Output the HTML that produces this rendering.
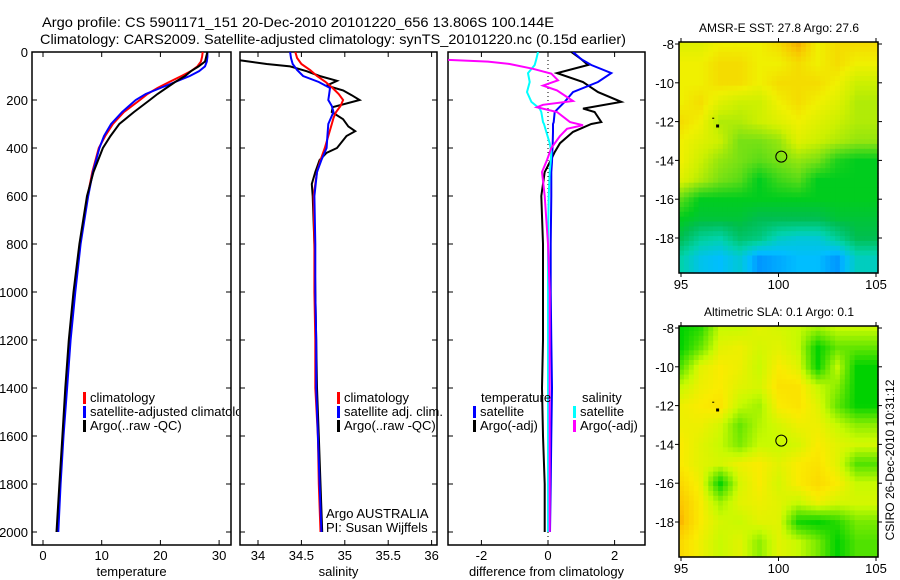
<!DOCTYPE html>
<html><head><meta charset="utf-8"><style>
html,body{margin:0;padding:0;background:#fff;}
svg{display:block;font-family:"Liberation Sans",sans-serif;}
</style></head><body>
<svg id="c" width="900" height="580" viewBox="0 0 900 580" xmlns="http://www.w3.org/2000/svg">
<defs>
<clipPath id="cp1"><rect x="32" y="52" width="199" height="493"/></clipPath>
<clipPath id="cp2"><rect x="240" y="52" width="197" height="493"/></clipPath>
<clipPath id="cp3"><rect x="448" y="52" width="197" height="493"/></clipPath>
<clipPath id="cpl"><rect x="32" y="380" width="207" height="60"/></clipPath>
</defs>
<text x="42" y="27" font-size="14" textLength="512" lengthAdjust="spacingAndGlyphs">Argo profile: CS 5901171_151 20-Dec-2010 20101220_656 13.806S 100.144E</text>
<text x="40" y="44" font-size="14" textLength="586" lengthAdjust="spacingAndGlyphs">Climatology: CARS2009. Satellite-adjusted climatology: synTS_20101220.nc (0.15d earlier)</text>
<g id="g"></g>
</svg>
<script>
// ---- data ----
const depthLevels = [0,20,40,60,80,100,125,150,175,200,250,300,350,400,500,600,800,1000,1200,1400,1600,1800,2000];
const tempClim = [27.2,27.1,26.9,26.3,25.2,23.6,21.5,19.5,17.8,16.5,13.8,11.9,10.6,9.5,8.4,7.6,6.3,5.4,4.6,3.9,3.4,2.9,2.5];
const tempSat = [28.0,28.0,27.9,27.6,26.6,25.0,22.5,20.0,17.5,15.8,13.5,11.6,10.4,9.6,8.5,7.7,6.4,5.5,4.7,4.1,3.5,3.0,2.6];
const tempArgo = [28.0,27.8,27.6,26.5,25.2,24.2,22.5,21.0,19.5,18.2,15.5,13.0,11.5,10.2,8.6,7.5,6.2,5.2,4.4,3.8,3.3,2.8,2.3];
const salDepths = [0,25,50,75,100,125,150,175,200,225,250,275,300,350,400,450,500,600,800,1000,1200,1400,1600,1800,2000];
const salClim = [34.43,34.45,34.5,34.6,34.68,34.78,34.86,34.93,34.98,34.95,34.9,34.87,34.85,34.81,34.77,34.72,34.68,34.64,34.65,34.65,34.66,34.66,34.69,34.7,34.72];
const salSat = [34.37,34.38,34.4,34.45,34.52,34.7,34.83,34.82,34.81,34.85,34.87,34.84,34.81,34.8,34.79,34.73,34.68,34.65,34.66,34.66,34.67,34.67,34.69,34.71,34.73];
const argoSalDepths = [25,35,50,60,80,100,120,140,160,180,200,230,250,280,310,330,350,400,420,450,500,550,600,800,1000,1200,1400,1600,1800,2000];
const salArgo = [33.7,33.8,34.1,34.37,34.56,34.71,34.91,34.79,34.98,35.08,35.17,34.86,34.85,34.98,35.04,35.12,35.02,34.91,34.79,34.71,34.66,34.62,34.63,34.65,34.66,34.67,34.68,34.7,34.72,34.74];
const diffDepths = [0,30,54,88,125,167,208,236,250,292,300,333,380,417,458,500,600,800,1000,1200,1400,1600,1800,2000];
const diffTempSat = [0.75,1.0,1.3,1.9,1.5,0.75,0.5,0.3,0.2,0.17,0.15,0.15,0.14,0.13,0.12,0.1,0.1,0.08,0.08,0.1,0.12,0.1,0.08,0.06];
const diffTempArgo = [0.7,1.0,1.2,0.27,1.05,1.5,2.2,1.05,1.4,1.6,1.3,0.75,0.36,0.2,0.06,-0.1,-0.2,-0.15,-0.15,-0.15,-0.18,-0.15,-0.1,-0.1];
const diffSalSat = [-0.3,-0.35,-0.4,-0.6,-0.55,-0.63,-0.5,-0.25,-0.2,-0.15,-0.12,-0.05,0.05,0.1,0.08,0.05,0.02,0.0,0.0,0.0,0.0,0.0,0.0,0.0];
const diffSalArgoDepths = [33,40,50,70,90,118,140,160,204,220,230,250,292,305,320,350,400,450,500,600,800,1000,1400,2000];
const diffSalArgo = [-3.0,-1.8,-1.15,-0.45,0.1,0.3,-0.15,0.27,0.75,-0.15,-0.33,0.27,0.66,1.05,0.57,0.36,0.1,-0.03,-0.18,-0.1,0.0,0.05,0.05,0.05];
const depthTicks = [0,200,400,600,800,1000,1200,1400,1600,1800,2000];
const tempTicks = [0,10,20,30];
const salTicks = [34,34.5,35,35.5,36];
const salTickLabels = ["34","34.5","35","35.5","36"];
const diffTicks = [-2,0,2];
const lonTicks = [95,100,105];
const latTicks = [-8,-10,-12,-14,-16,-18];
// map grids: rows lat -8..-19 (1 deg), cols lon 95..104
const sstGrid = [
[27.8,27.8,27.9,27.9,27.9,28.0,28.2,27.9,28.0,28.0],
[27.9,27.9,28.0,28.0,27.9,27.9,28.0,27.9,28.0,27.9],
[27.9,27.9,28.0,28.0,27.9,28.0,28.0,28.0,27.9,27.7],
[27.9,28.0,27.8,27.7,27.7,27.9,28.0,27.9,27.8,27.6],
[28.0,27.9,27.6,27.6,27.7,27.8,27.9,27.8,27.7,27.6],
[27.9,27.8,27.7,27.4,27.4,27.5,27.8,27.7,27.6,27.5],
[27.9,27.7,27.5,27.4,27.3,27.4,27.5,27.4,27.1,27.0],
[27.8,27.6,27.4,27.3,27.0,27.2,27.3,27.0,27.0,27.0],
[27.3,27.0,27.0,27.0,27.0,27.0,27.0,27.0,27.0,27.0],
[27.0,26.9,26.9,26.9,26.8,26.8,26.8,26.8,26.9,26.9],
[26.8,26.5,26.4,26.7,26.6,26.3,26.2,26.2,26.5,26.8],
[26.4,26.1,26.0,26.2,25.8,25.9,26.0,26.0,25.8,26.3]];
const slaGrid = [
[-1,-0.8,0,0,0.2,0.1,0,-0.2,0,0],
[-1,-0.5,0.2,0.3,0.1,0.2,0,-1,-0.5,-0.5],
[-0.6,0.2,0.4,0.3,0,0.4,0.2,-1,0,-1],
[0,0.3,0.4,0.2,0.1,0.5,0.5,0,-0.3,-1],
[0.3,0.4,0.5,0,-0.2,0.4,0.5,0.2,-0.5,-1],
[0.3,0.3,0.1,-0.5,-0.1,0.1,0.3,0.3,0,-0.3],
[0.4,0.2,0,-0.4,0,0,0.1,0.4,0.2,0.1],
[0.4,0.2,0.1,0.3,0.4,0.2,0.4,0.5,0.2,-0.6],
[0.6,0.3,-1,0.1,0.4,0.1,0.4,0.6,0.4,0],
[0.8,0.4,-0.2,0.2,0.3,0.2,0,0.3,0.1,0.1],
[0.9,0.4,0.1,0,0.2,0.2,-0.9,-1,-0.8,-0.4],
[0.6,0.3,0,0.2,-0.3,0.2,0,-0.4,-1,-0.6]];
const argoLon = [100.144];
const argoLat = [-13.806];

// ---- helpers ----
const NS="http://www.w3.org/2000/svg";
const G=document.getElementById('g');
function mk(tag,attrs,parent){const e=document.createElementNS(NS,tag);for(const k in attrs)e.setAttribute(k,attrs[k]);(parent||G).appendChild(e);return e;}
const yD=d=>52+d*0.24;
const xT=v=>43+v*5.87;
const xS=v=>258+(v-34)*86.8;
const xDf=v=>548+v*33.3;
function txt(x,y,s,opt,name){const t=mk('text',Object.assign({x:x,y:y,'font-size':13},opt||{}));t.textContent=s;


return t;}
function line(xs,ys,xf,color,clip,name){const pts=xs.map((v,i)=>xf(v).toFixed(1)+','+yD(ys[i]).toFixed(1)).join(' ');
const p=mk('polyline',{points:pts,fill:'none',stroke:color,'stroke-width':2,'clip-path':'url(#'+clip+')'});


return p;}

// ---- profile panels ----
const panels=[{x:32,w:199,xf:xT,ticks:tempTicks,labs:tempTicks.map(String),title:'temperature',n:'temperature'},
{x:240,w:197,xf:xS,ticks:salTicks,labs:salTickLabels,title:'salinity',n:'salinity'},
{x:448,w:197,xf:xDf,ticks:diffTicks,labs:diffTicks.map(String),title:'difference from climatology',n:'difference'}];
panels.forEach((p,pi)=>{
  const r=mk('rect',{x:p.x,y:52,width:p.w,height:493,fill:'none',stroke:'#000','stroke-width':1.5});
  
  
  depthTicks.forEach(d=>{
    mk('line',{x1:p.x,x2:p.x+5,y1:yD(d),y2:yD(d),stroke:'#000'});
    mk('line',{x1:p.x+p.w-5,x2:p.x+p.w,y1:yD(d),y2:yD(d),stroke:'#000'});
  });
  p.ticks.forEach((t,i)=>{
    const x=p.xf(t);
    mk('line',{x1:x,x2:x,y1:545,y2:540,stroke:'#000'});
    mk('line',{x1:x,x2:x,y1:52,y2:57,stroke:'#000'});
    txt(x,560,p.labs[i],{'text-anchor':'middle'},p.n+'-x-tick-label');
  });
  txt(p.x+p.w/2,576,p.title,{'text-anchor':'middle'},p.n+'-x-axis-title');
});
depthTicks.forEach(d=>txt(28,yD(d)+5,String(d),{'text-anchor':'end'},'depth-tick-label'));

line(tempClim,depthLevels,xT,'#ff0000','cp1','temp-climatology-line');
line(tempSat,depthLevels,xT,'#0000ff','cp1','temp-satellite-line');
line(tempArgo,depthLevels,xT,'#000000','cp1','temp-argo-line');
line(salArgo,argoSalDepths,xS,'#000000','cp2','sal-argo-line');
line(salClim,salDepths,xS,'#ff0000','cp2','sal-climatology-line');
line(salSat,salDepths,xS,'#0000ff','cp2','sal-satellite-line');
const zl=mk('line',{x1:548,x2:548,y1:52,y2:545,stroke:'#000','stroke-dasharray':'1,3'});


line(diffTempArgo,diffDepths,xDf,'#000000','cp3','diff-temp-argo-line');
line(diffTempSat,diffDepths,xDf,'#0000ff','cp3','diff-temp-satellite-line');
line(diffSalSat,diffDepths,xDf,'#00ffff','cp3','diff-sal-satellite-line');
line(diffSalArgo,diffSalArgoDepths,xDf,'#ff00ff','cp3','diff-sal-argo-line');

// legends
function leg(x,y,color,label,name,clip){
  const b=mk('rect',{x:x,y:y-10,width:3,height:12,fill:color});
  
  
  const t=txt(x+7,y,label,clip?{'clip-path':'url(#'+clip+')'}:{},name);
  return t;
}
leg(83,402,'#ff0000','climatology','legend-temp-climatology');
leg(83,416,'#0000ff','satellite-adjusted climatology','legend-temp-satellite','cpl');
leg(83,430,'#000000','Argo(..raw -QC)','legend-temp-argo');
leg(337,402,'#ff0000','climatology','legend-sal-climatology');
leg(337,416,'#0000ff','satellite adj. clim.','legend-sal-satellite');
leg(337,430,'#000000','Argo(..raw -QC)','legend-sal-argo');
txt(326,518,'Argo AUSTRALIA',{},'argo-australia-label');
txt(326,532,'PI: Susan Wijffels',{},'pi-label');
txt(481,402,'temperature',{},'legend-diff-temperature-heading');
leg(473,416,'#0000ff','satellite','legend-diff-temp-satellite');
leg(473,430,'#000000','Argo(-adj)','legend-diff-temp-argo');
txt(582,402,'salinity',{},'legend-diff-salinity-heading');
leg(573,416,'#00ffff','satellite','legend-diff-sal-satellite');
leg(573,430,'#ff00ff','Argo(-adj)','legend-diff-sal-argo');

// ---- maps ----
function col(stops,v){
  if(v<=stops[0][0])return 'rgb('+stops[0][1].join(',')+')';
  for(let i=1;i<stops.length;i++){if(v<=stops[i][0]){const a=stops[i-1],b=stops[i],f=(v-a[0])/(b[0]-a[0]);
    return 'rgb('+[0,1,2].map(k=>Math.round(a[1][k]+(b[1][k]-a[1][k])*f)).join(',')+')';}}
  return 'rgb('+stops[stops.length-1][1].join(',')+')';
}
function sample(grid,fi,fj){
  const R=grid.length,C=grid[0].length;
  fi=Math.max(0,Math.min(C-1,fi)); fj=Math.max(0,Math.min(R-1,fj));
  const i0=Math.floor(fi),j0=Math.floor(fj),i1=Math.min(C-1,i0+1),j1=Math.min(R-1,j0+1);
  const a=fi-i0,b=fj-j0;
  return grid[j0][i0]*(1-a)*(1-b)+grid[j0][i1]*a*(1-b)+grid[j1][i0]*(1-a)*b+grid[j1][i1]*a*b;
}
const sstStops=[[25.6,[0,110,255]],[26.0,[0,190,255]],[26.4,[0,210,170]],[26.8,[0,190,80]],[27.0,[0,205,30]],[27.4,[120,225,20]],[27.7,[205,240,0]],[27.9,[240,240,0]],[28.1,[248,200,0]],[28.4,[240,120,0]]];
const slaStops=[[-1,[0,210,0]],[-0.5,[100,230,0]],[0,[200,250,0]],[0.4,[250,235,0]],[0.8,[252,200,0]],[1.0,[250,160,0]]];
function map(y0,title,grid,stops,n){
  const x0=679,w=199,h=231;
  const xL=lon=>681+(lon-95)*19.5;
  const yL=lat=>y0+2+(-8-lat)*19.4;
  const g=mk('g',{});
  
  
  const step=0.25;
  for(let lat=-7.9;lat>-20;lat-=step){
    for(let lon=94.9;lon<105.3;lon+=step){
      const xa=Math.max(x0,xL(lon)), xb=Math.min(x0+w,xL(lon+step));
      const ya=Math.max(y0,yL(lat)), yb=Math.min(y0+h,yL(lat-step));
      if(xb<=xa||yb<=ya)continue;
      const v=sample(grid,lon+step/2-95,-8-(lat-step/2));
      const c=mk('rect',{x:xa.toFixed(1),y:ya.toFixed(1),width:(xb-xa+0.6).toFixed(1),height:(yb-ya+0.6).toFixed(1),fill:col(stops,v)},g);
      
      
    }
  }
  const f=mk('rect',{x:x0,y:y0,width:w,height:h,fill:'none',stroke:'#000','stroke-width':1.5});
  
  
  lonTicks.forEach(l=>{mk('line',{x1:xL(l),x2:xL(l),y1:y0+h,y2:y0+h+4,stroke:'#000'});mk('line',{x1:xL(l),x2:xL(l),y1:y0,y2:y0-4,stroke:'#000'});
    txt(xL(l),y0+h+16,String(l),{'text-anchor':'middle'},n+'-lon-tick-label');});
  latTicks.forEach(l=>{mk('line',{x1:x0-4,x2:x0,y1:yL(l),y2:yL(l),stroke:'#000'});mk('line',{x1:x0+w,x2:x0+w+4,y1:yL(l),y2:yL(l),stroke:'#000'});
    txt(674,yL(l)+5,String(l),{'text-anchor':'end'},n+'-lat-tick-label');});
  txt(779,y0-10,title,{'text-anchor':'middle','font-size':12},n+'-map-title');
  argoLon.forEach((lo,i)=>{const c=mk('circle',{cx:xL(lo),cy:yL(argoLat[i]),r:5.5,fill:'none',stroke:'#000'});
    
    });
  mk('rect',{x:xL(96.8),y:yL(-12.2)-1,width:3,height:3,fill:'#000'});
  mk('rect',{x:xL(96.6),y:yL(-11.8),width:2,height:1,fill:'#000'});
}
map(42,'AMSR-E SST: 27.8 Argo: 27.6',sstGrid,sstStops,'sst');
map(326,'Altimetric SLA: 0.1 Argo: 0.1',slaGrid,slaStops,'sla');
txt(0,0,'CSIRO 26-Dec-2010 10:31:12',{'text-anchor':'middle',transform:'translate(894,460) rotate(-90)','font-size':12},'timestamp-label');
</script>
</body></html>
